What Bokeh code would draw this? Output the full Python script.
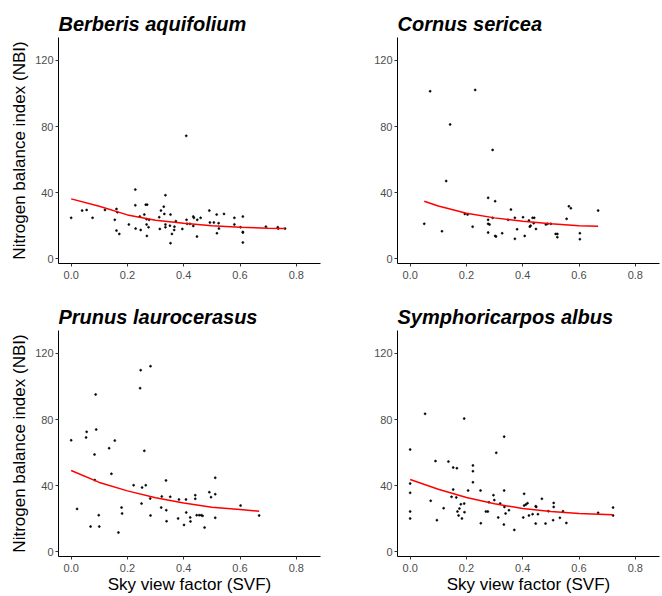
from bokeh.plotting import figure
from bokeh.layouts import column, row
from bokeh.models import Range1d, FixedTicker, PrintfTickFormatter
from bokeh.embed import file_html
from bokeh.resources import INLINE

# ---------------- data ----------------
species = ["Berberis aquifolium", "Cornus sericea",
           "Prunus laurocerasus", "Symphoricarpos albus"]

berberis_svf = [0.000, 0.039, 0.055, 0.076, 0.120, 0.155, 0.161, 0.164, 0.161, 0.171,
                0.205, 0.228, 0.228, 0.229, 0.244, 0.247, 0.260, 0.265, 0.270, 0.268,
                0.268, 0.269, 0.275, 0.277, 0.313, 0.315, 0.319, 0.329, 0.331, 0.335,
                0.335, 0.335, 0.351, 0.353, 0.353, 0.358, 0.367, 0.366, 0.372, 0.395,
                0.409, 0.410, 0.412, 0.422, 0.434, 0.436, 0.434, 0.448, 0.447, 0.460,
                0.491, 0.493, 0.507, 0.517, 0.518, 0.524, 0.525, 0.543, 0.580, 0.580,
                0.602, 0.610, 0.610, 0.610, 0.610, 0.692, 0.734, 0.736, 0.760]
berberis_nbi = [24.8, 29.2, 29.6, 24.8, 29.6, 23.6, 30.2, 28.2, 17.1, 15.1,
                20.8, 41.9, 32.4, 18.3, 25.6, 17.5, 26.8, 32.8, 32.8, 24.0,
                20.8, 13.9, 19.1, 23.6, 25.2, 18.1, 29.2, 31.6, 27.2, 38.5,
                20.8, 19.1, 20.1, 26.8, 9.5, 15.1, 19.5, 17.5, 22.8, 18.1,
                74.4, 23.6, 21.2, 21.2, 25.6, 24.8, 19.9, 23.6, 13.5, 24.8,
                29.2, 22.0, 22.0, 26.8, 15.5, 21.6, 18.3, 27.2, 24.8, 20.8,
                19.1, 25.6, 16.3, 15.9, 9.9, 19.5, 19.1, 18.3, 18.3]
berberis_fit_svf = [0.0, 0.1, 0.2, 0.3, 0.4, 0.5, 0.6, 0.7, 0.76]
berberis_fit_nbi = [36.3, 31.8, 26.6, 23.4, 21.6, 20.1, 19.1, 18.5, 18.3]

cornus_svf = [0.050, 0.071, 0.113, 0.128, 0.142, 0.194, 0.204, 0.222, 0.231, 0.277,
              0.277, 0.277, 0.282, 0.277, 0.293, 0.293, 0.302, 0.302, 0.305, 0.327,
              0.348, 0.358, 0.372, 0.372, 0.380, 0.401, 0.407, 0.422, 0.425, 0.428,
              0.435, 0.441, 0.439, 0.447, 0.482, 0.488, 0.500, 0.517, 0.523, 0.523,
              0.556, 0.564, 0.571, 0.603, 0.603, 0.668]
cornus_nbi = [21.2, 101.4, 16.7, 47.1, 81.3, 27.2, 26.8, 19.5, 102.2, 36.9,
              23.6, 21.2, 20.8, 15.9, 24.8, 65.9, 34.9, 13.9, 13.5, 15.5,
              23.6, 29.8, 24.8, 12.1, 17.9, 25.2, 13.9, 23.2, 19.5, 20.1,
              24.8, 24.8, 21.6, 18.1, 20.8, 21.2, 21.2, 15.1, 15.1, 13.1,
              24.2, 31.8, 30.6, 15.5, 11.9, 29.2]
cornus_fit_svf = [0.05, 0.1, 0.2, 0.3, 0.4, 0.5, 0.6, 0.668]
cornus_fit_nbi = [34.9, 32.0, 27.6, 24.8, 22.8, 21.2, 20.0, 19.7]

prunus_svf = [0.000, 0.021, 0.053, 0.055, 0.069, 0.083, 0.084, 0.087, 0.089, 0.098,
              0.100, 0.135, 0.143, 0.155, 0.168, 0.179, 0.181, 0.222, 0.245, 0.247,
              0.250, 0.252, 0.260, 0.265, 0.281, 0.282, 0.282, 0.320, 0.322, 0.337,
              0.338, 0.339, 0.352, 0.380, 0.383, 0.401, 0.408, 0.409, 0.423, 0.424,
              0.441, 0.441, 0.446, 0.455, 0.462, 0.467, 0.474, 0.491, 0.497, 0.512,
              0.512, 0.512, 0.602, 0.668]
prunus_nbi = [67.5, 26.0, 69.2, 72.6, 15.3, 58.9, 43.4, 95.2, 74.0, 22.2,
              15.3, 62.7, 47.2, 67.3, 11.7, 26.8, 23.2, 40.3, 99.0, 109.9,
              29.2, 38.9, 61.1, 40.3, 32.3, 112.3, 22.0, 26.8, 33.5, 43.2,
              25.2, 18.5, 33.3, 20.2, 31.7, 16.3, 31.7, 23.8, 20.8, 18.4,
              34.3, 32.1, 22.2, 22.2, 22.2, 21.8, 14.7, 36.1, 33.1, 44.8,
              34.9, 20.6, 28.0, 22.0]
prunus_fit_svf = [0.0, 0.1, 0.2, 0.3, 0.4, 0.5, 0.6, 0.668]
prunus_fit_nbi = [49.2, 42.0, 36.9, 32.7, 29.5, 27.0, 25.6, 24.6]

symph_svf = [0.000, 0.000, 0.000, 0.000, 0.000, 0.053, 0.073, 0.090, 0.095, 0.119,
             0.136, 0.147, 0.153, 0.153, 0.164, 0.166, 0.168, 0.172, 0.175, 0.180,
             0.184, 0.192, 0.192, 0.193, 0.206, 0.223, 0.223, 0.223, 0.250, 0.251,
             0.269, 0.276, 0.280, 0.296, 0.299, 0.306, 0.313, 0.320, 0.333, 0.334,
             0.334, 0.335, 0.339, 0.351, 0.370, 0.402, 0.405, 0.405, 0.411, 0.417,
             0.422, 0.435, 0.446, 0.448, 0.446, 0.454, 0.468, 0.481, 0.491, 0.508,
             0.510, 0.510, 0.532, 0.543, 0.555, 0.668, 0.721, 0.721]
symph_nbi = [61.9, 41.3, 35.7, 24.4, 20.2, 83.5, 30.9, 54.9, 19.2, 26.4,
             54.6, 33.3, 51.0, 37.7, 32.9, 50.6, 24.4, 22.0, 26.2, 28.8,
             20.2, 80.6, 29.2, 24.0, 37.1, 52.3, 48.8, 42.1, 37.1, 17.3,
             24.4, 24.4, 30.0, 34.3, 31.3, 59.9, 20.8, 29.2, 16.5, 69.7,
             37.1, 27.2, 23.2, 25.2, 13.3, 20.8, 35.1, 28.0, 28.6, 29.4,
             22.0, 22.8, 27.6, 27.2, 17.1, 22.8, 32.1, 17.1, 24.6, 19.2,
             29.6, 27.2, 20.6, 24.6, 17.5, 23.6, 26.8, 22.0]
symph_fit_svf = [0.0, 0.1, 0.2, 0.3, 0.4, 0.5, 0.6, 0.72]
symph_fit_nbi = [43.8, 37.9, 32.9, 29.1, 26.2, 24.4, 23.2, 22.4]

x_ticks = [0.0, 0.2, 0.4, 0.6, 0.8]
y_ticks = [0, 40, 80, 120]
x_label = "Sky view factor (SVF)"
y_label = "Nitrogen balance index (NBI)"

FONT = "Liberation Sans"


def panel(title, xs, ys, fx, fy, left_col, bottom_row):
    h = 303 if bottom_row else 293
    fig = figure(width=331, height=h,
                 x_range=Range1d(-0.045, 0.886), y_range=Range1d(-2.8, 133.9),
                 output_backend="svg", toolbar_location=None,
                 min_border_left=58 if left_col else 66,
                 min_border_right=11 if left_col else 3,
                 min_border_top=37,
                 min_border_bottom=40 if bottom_row else 30)
    fig.background_fill_color = "white"
    fig.border_fill_color = "white"
    fig.outline_line_color = None
    fig.xgrid.visible = False
    fig.ygrid.visible = False

    fig.title.text = title
    fig.title.text_font = FONT
    fig.title.text_font_style = "bold italic"
    fig.title.text_font_size = "20px"
    fig.title.text_color = "black"
    fig.title.align = "left"
    fig.title.standoff = 6

    for ax in (fig.xaxis[0], fig.yaxis[0]):
        ax.axis_line_color = "black"
        ax.axis_line_width = 1
        ax.major_tick_line_color = "#333333"
        ax.major_tick_out = 3
        ax.major_tick_in = 0
        ax.minor_tick_line_color = None
        ax.major_label_text_font = FONT
        ax.major_label_text_font_size = "11px"
        ax.major_label_text_color = "#4D4D4D"
        ax.axis_label_text_font = FONT
        ax.axis_label_text_font_size = "17px"
        ax.axis_label_text_font_style = "normal"
        ax.axis_label_text_color = "black"

    fig.xaxis.ticker = FixedTicker(ticks=x_ticks)
    fig.xaxis.formatter = PrintfTickFormatter(format="%.1f")
    fig.xaxis.major_label_standoff = 4
    fig.yaxis.ticker = FixedTicker(ticks=y_ticks)
    fig.yaxis.major_label_standoff = 2

    if left_col:
        fig.yaxis.axis_label = y_label
        fig.yaxis.axis_label_standoff = 3
    if bottom_row:
        fig.xaxis.axis_label = x_label
        fig.xaxis.axis_label_standoff = 0

    fig.scatter(xs, ys, size=2.0, color="black", line_color="black", line_width=0.6)
    fig.line(fx, fy, color="red", line_width=1.5)
    return fig


p1 = panel(species[0], berberis_svf, berberis_nbi, berberis_fit_svf, berberis_fit_nbi, True, False)
p2 = panel(species[1], cornus_svf, cornus_nbi, cornus_fit_svf, cornus_fit_nbi, False, False)
p3 = panel(species[2], prunus_svf, prunus_nbi, prunus_fit_svf, prunus_fit_nbi, True, True)
p4 = panel(species[3], symph_svf, symph_nbi, symph_fit_svf, symph_fit_nbi, False, True)

p = column(row(p1, p2), row(p3, p4))

open("out.html", "w").write(file_html(p, INLINE))
